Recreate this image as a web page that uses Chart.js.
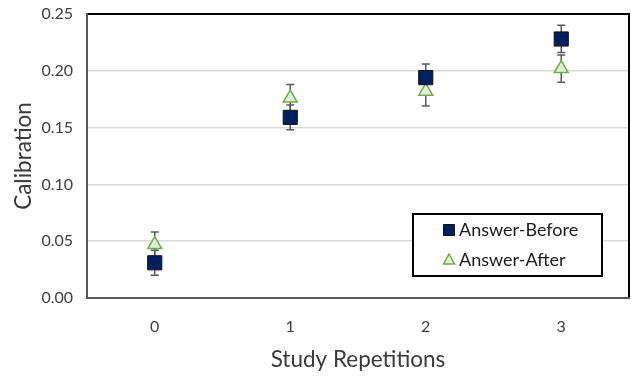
<!DOCTYPE html>
<html>
<head>
<meta charset="utf-8">
<script src="https://cdn.jsdelivr.net/npm/chart.js@4"></script>
<style>
  html, body { margin: 0; padding: 0; background: #ffffff; }
  #wrap { width: 631px; height: 376px; }
</style>
</head>
<body>
<div id="wrap"><canvas id="c" width="631" height="376"></canvas></div>
<script>
// Study repetitions on the x axis
const repetitions = ['0', '1', '2', '3'];

// Mean calibration per condition
const answerBefore = [0.031, 0.159, 0.194, 0.228];
const answerAfter = [0.047, 0.176, 0.182, 0.202];

// Standard error of each mean
const answerBeforeErr = [0.011, 0.011, 0.012, 0.012];
const answerAfterErr = [0.011, 0.012, 0.013, 0.012];

// Y axis tick values
const yTicks = [0, 0.05, 0.10, 0.15, 0.20, 0.25];

const FONT = 'Lato, "Open Sans", sans-serif';
const errors = [answerBeforeErr, answerAfterErr];

// Keep the plot area exactly where the layout padding puts it
function noAutoPadding(s) {
  s.paddingLeft = 0; s.paddingRight = 0; s.paddingTop = 0; s.paddingBottom = 0;
}

// Draws a vertical error bar with caps behind each marker
const errorBars = {
  id: 'errorBars',
  beforeDatasetsDraw(chart) {
    const { ctx, scales: { x, y } } = chart;
    ctx.save();
    ctx.strokeStyle = '#595959';
    ctx.lineWidth = 1.5;
    chart.data.datasets.forEach((ds, di) => {
      ds.data.forEach((v, i) => {
        const e = errors[di][i];
        const px = x.getPixelForValue(i);
        const yHi = y.getPixelForValue(v + e);
        const yLo = y.getPixelForValue(v - e);
        ctx.beginPath();
        ctx.moveTo(px, yHi); ctx.lineTo(px, yLo);
        ctx.moveTo(px - 4, yHi); ctx.lineTo(px + 4, yHi);
        ctx.moveTo(px - 4, yLo); ctx.lineTo(px + 4, yLo);
        ctx.stroke();
      });
    });
    ctx.restore();
  }
};

// Plot-area frame: black box with grey axis lines on the left and bottom
const frame = {
  id: 'frame',
  beforeDatasetsDraw(chart) {
    const { ctx, chartArea: a } = chart;
    ctx.save();
    ctx.lineWidth = 2;
    ctx.strokeStyle = '#000000';
    ctx.beginPath();
    ctx.moveTo(a.left, a.top); ctx.lineTo(a.right, a.top); ctx.lineTo(a.right, a.bottom);
    ctx.stroke();
    ctx.strokeStyle = '#595959';
    ctx.beginPath();
    ctx.moveTo(a.left, a.top - 1); ctx.lineTo(a.left, a.bottom); ctx.lineTo(a.right + 1, a.bottom);
    ctx.stroke();
    ctx.restore();
  }
};

// Boxed legend in the lower right of the plot area
const boxLegend = {
  id: 'boxLegend',
  afterDatasetsDraw(chart) {
    const { ctx, chartArea: a } = chart;
    const bx = a.right - 216, by = a.bottom - 84, bw = 189, bh = 62;
    ctx.save();
    ctx.fillStyle = '#ffffff';
    ctx.fillRect(bx, by, bw, bh);
    ctx.lineWidth = 2;
    ctx.strokeStyle = '#000000';
    ctx.strokeRect(bx, by, bw, bh);
    ctx.font = '18px ' + FONT;
    ctx.textBaseline = 'middle';
    const rows = [by + 16, by + 46];
    chart.data.datasets.forEach((ds, i) => {
      const cy = rows[i];
      const mx = bx + 36;
      ctx.lineWidth = i === 0 ? 1 : 1.5;
      ctx.fillStyle = ds.pointBackgroundColor;
      ctx.strokeStyle = ds.pointBorderColor;
      ctx.beginPath();
      if (i === 0) {
        ctx.rect(mx - 5.5, cy - 5.5, 11, 11);
      } else {
        ctx.moveTo(mx, cy - 6);
        ctx.lineTo(mx + 5.5, cy + 4);
        ctx.lineTo(mx - 5.5, cy + 4);
        ctx.closePath();
      }
      ctx.fill();
      ctx.stroke();
      ctx.fillStyle = '#1a1a1a';
      ctx.fillText(ds.label, bx + 46, cy);
    });
    ctx.restore();
  }
};

new Chart(document.getElementById('c'), {
  type: 'line',
  data: {
    labels: repetitions,
    datasets: [
      {
        label: 'Answer-Before',
        data: answerBefore,
        showLine: false,
        pointStyle: 'rect',
        pointRadius: 10,
        pointHoverRadius: 10,
        pointBackgroundColor: '#002060',
        pointBorderColor: '#111111',
        pointBorderWidth: 1
      },
      {
        label: 'Answer-After',
        data: answerAfter,
        showLine: false,
        pointStyle: 'triangle',
        pointRadius: 8,
        pointHoverRadius: 8,
        pointBackgroundColor: '#e2f0d9',
        pointBorderColor: '#70ad47',
        pointBorderWidth: 1.5
      }
    ]
  },
  options: {
    responsive: false,
    animation: false,
    devicePixelRatio: 1,
    layout: { autoPadding: false, padding: { top: 14, right: 2, bottom: 0, left: 0 } },
    plugins: {
      legend: { display: false },
      tooltip: { enabled: false }
    },
    scales: {
      x: {
        offset: true,
        grid: { display: false, drawTicks: false },
        border: { display: false },
        ticks: { color: '#404040', font: { family: FONT, size: 16 }, padding: 19 },
        title: {
          display: true, text: 'Study Repetitions', color: '#3a3a3a',
          font: { family: FONT, size: 22.5 }, padding: { bottom: 2.5 }
        },
        afterFit(s) { s.height = 78; noAutoPadding(s); }
      },
      y: {
        min: 0, max: 0.25,
        afterBuildTicks(s) { s.ticks = yTicks.map(v => ({ value: v })); },
        grid: { color: '#d9d9d9', lineWidth: 1.5, drawTicks: false },
        border: { display: false },
        ticks: {
          color: '#404040', font: { family: FONT, size: 16 }, padding: 14,
          callback: v => v.toFixed(2)
        },
        title: {
          display: true, text: 'Calibration', color: '#3a3a3a',
          font: { family: FONT, size: 22.5 }, padding: { top: 10.5 }
        },
        afterFit(s) { s.width = 87; noAutoPadding(s); }
      }
    }
  },
  plugins: [frame, errorBars, boxLegend]
});
</script>
</body>
</html>
